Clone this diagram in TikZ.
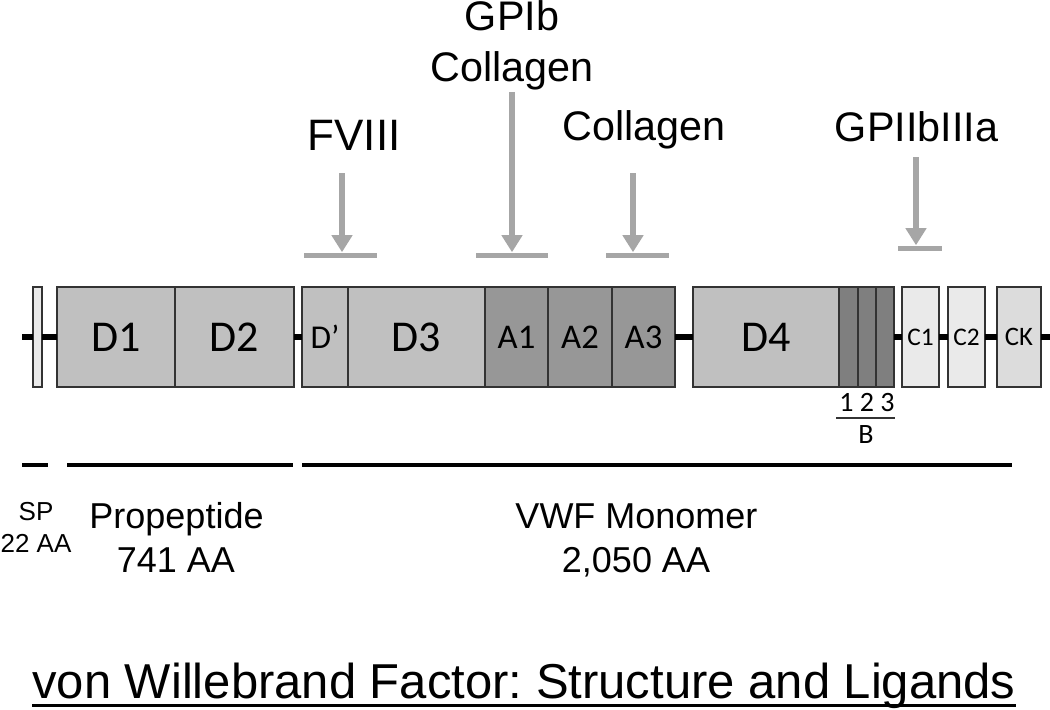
\documentclass[tikz,border=0pt]{standalone}
\usepackage{fontspec}
\setmainfont{Liberation Sans}
\newfontfamily\calibri{Carlito}
\usepackage{tikz}
\usetikzlibrary{arrows.meta,positioning}
\usepackage{xcolor}
\frenchspacing

\definecolor{dgray}{HTML}{C0C0C0}
\definecolor{agray}{HTML}{979797}
\definecolor{bgray}{HTML}{7F7F7F}
\definecolor{cgray}{HTML}{EAEAEA}
\definecolor{ckgray}{HTML}{DCDCDC}
\definecolor{ligandgray}{HTML}{A6A6A6}

\begin{document}
\begin{tikzpicture}[x=0.75pt,y=-0.75pt]
    \tikzstyle{dombox} = [rectangle, draw=black!80, line width=0.8pt, inner sep=0pt,
               outer sep=0pt, minimum height=75pt,
               font=\calibri\fontsize{33}{33}\selectfont]
    \tikzstyle{backbone} = [draw, line width=4.5pt]
    \tikzstyle{region} = [draw, line width=3pt]
    \tikzstyle{ligand} = [draw=ligandgray, line width=4.5pt, -{Triangle[width=15pt,length=12.75pt]}]
    \tikzstyle{tbar} = [rectangle, fill=ligandgray, inner sep=0pt, minimum height=3.75pt]
    \tikzstyle{ligname} = [anchor=base, inner sep=0pt, font=\fontsize{31}{31}\selectfont]
    \tikzstyle{sizename} = [anchor=base, inner sep=0pt, font=\fontsize{27}{27}\selectfont]

    \useasboundingbox (0,0) rectangle (1050,710);

    % Define domains
    \node[dombox, fill=cgray, minimum width=6.75pt] (SP) at (37.5,337) {};
    \node[dombox, fill=dgray, minimum width=88.5pt, anchor=west] (D1) at (57,337) {D1};
    \node[dombox, fill=dgray, minimum width=89.25pt, right=0pt of D1] (D2) {D2};

    \node[dombox, fill=dgray, minimum width=34.5pt, anchor=west,
          font=\calibri\fontsize{25}{25}\selectfont] (Dp) at (302,337) {D’};
    \node[dombox, fill=dgray, minimum width=102.75pt, right=0pt of Dp] (D3) {D3};
    \node[dombox, fill=agray, minimum width=47.25pt, right=0pt of D3,
          font=\calibri\fontsize{26}{26}\selectfont] (A1) {A1};
    \node[dombox, fill=agray, minimum width=48pt, right=0pt of A1,
          font=\calibri\fontsize{26}{26}\selectfont] (A2) {A2};
    \node[dombox, fill=agray, minimum width=47.25pt, right=0pt of A2,
          font=\calibri\fontsize{26}{26}\selectfont] (A3) {A3};

    \node[dombox, fill=dgray, minimum width=109.5pt, anchor=west] (D4) at (693,337) {D4};
    \node[dombox, fill=bgray, minimum width=14.25pt, right=0pt of D4] (B1) {};
    \node[dombox, fill=bgray, minimum width=13.5pt, right=0pt of B1] (B2) {};
    \node[dombox, fill=bgray, minimum width=13.5pt, right=0pt of B2] (B3) {};

    \node[dombox, fill=cgray, minimum width=27.75pt, anchor=west,
          font=\calibri\fontsize{19}{19}\selectfont] (C1) at (902,337) {C1};
    \node[dombox, fill=cgray, minimum width=27.75pt, anchor=west,
          font=\calibri\fontsize{19}{19}\selectfont] (C2) at (948,337) {C2};
    \node[dombox, fill=ckgray, minimum width=33pt, anchor=west,
          font=\calibri\fontsize{20}{20}\selectfont] (CK) at (997,337) {CK};

    % Backbone between domains
    \coordinate (bbL) at (22,337);
    \coordinate (bbR) at (1050,337);
    \draw[backbone] (bbL) -- (SP);
    \draw[backbone] (SP) -- (D1);
    \draw[backbone] (D2) -- (Dp);
    \draw[backbone] (A3) -- (D4);
    \draw[backbone] (B3) -- (C1);
    \draw[backbone] (C1) -- (C2);
    \draw[backbone] (C2) -- (CK);
    \draw[backbone] (CK) -- (bbR);

    % B repeats
    \node[anchor=base, inner sep=0pt, font=\calibri\fontsize{21}{21}\selectfont] (Bnums) at (867,411) {1 2 3};
    \coordinate (Bl) at (836,418);
    \coordinate (Br) at (895,418);
    \draw[line width=0.9pt, black!80] (Bl) -- (Br);
    \node[anchor=base, inner sep=0pt, font=\calibri\fontsize{21}{21}\selectfont] (Bname) at (866,443) {B};

    % Ligand binding sites
    \node[tbar, minimum width=54.75pt] (fbar) at (340.5,255) {};
    \coordinate (ftop) at (342,173);
    \draw[ligand] (ftop) -- (ftop |- fbar.north);
    \node[ligname, font=\fontsize{33}{33}\selectfont] (fviii) at (354,151) {FVIII};

    \node[tbar, minimum width=54pt] (gbar) at (512,255) {};
    \coordinate (gtop) at (512,92);
    \draw[ligand] (gtop) -- (gtop |- gbar.north);
    \node[ligname] (gpib) at (512,31) {GPIb};
    \node[ligname] (colla) at (512,82) {Collagen};

    \node[tbar, minimum width=47.25pt] (cbar) at (637.5,255) {};
    \coordinate (ctop) at (633,173);
    \draw[ligand] (ctop) -- (ctop |- cbar.north);
    \node[ligname] (collb) at (644,141) {Collagen};

    \node[tbar, minimum width=33pt] (ibar) at (920,248) {};
    \coordinate (itop) at (916,157);
    \draw[ligand] (itop) -- (itop |- ibar.north);
    \node[ligname] (gpiib) at (916.5,142) {GPIIbIIIa};

    % Regions
    \coordinate (spL) at (22,465);   \coordinate (spR) at (48,465);
    \coordinate (ppL) at (67,465);   \coordinate (ppR) at (293,465);
    \coordinate (mnL) at (302,465);  \coordinate (mnR) at (1012,465);
    \draw[region] (spL) -- (spR);
    \draw[region] (ppL) -- (ppR);
    \draw[region] (mnL) -- (mnR);

    \node[sizename, font=\fontsize{19.5}{19.5}\selectfont] (spname) at (36,520) {SP};
    \node[sizename, font=\fontsize{19.5}{19.5}\selectfont] (splen) at (36,552) {22 AA};
    \node[sizename] (ppname) at (176.5,528) {Propeptide};
    \node[sizename] (pplen) at (176,572) {741 AA};
    \node[sizename] (mnname) at (636.5,528) {VWF Monomer};
    \node[sizename] (mnlen) at (636,572) {2,050 AA};

    % Title
    \node[anchor=base, inner sep=0pt, font=\fontsize{36.75}{36.75}\selectfont] (title) at (524,698)
      {von Willebrand Factor: Structure and Ligands};
    \draw[line width=2.25pt] ([yshift=-5.25pt]title.base west) -- ([yshift=-5.25pt]title.base east);

  \end{tikzpicture}
\end{document}
